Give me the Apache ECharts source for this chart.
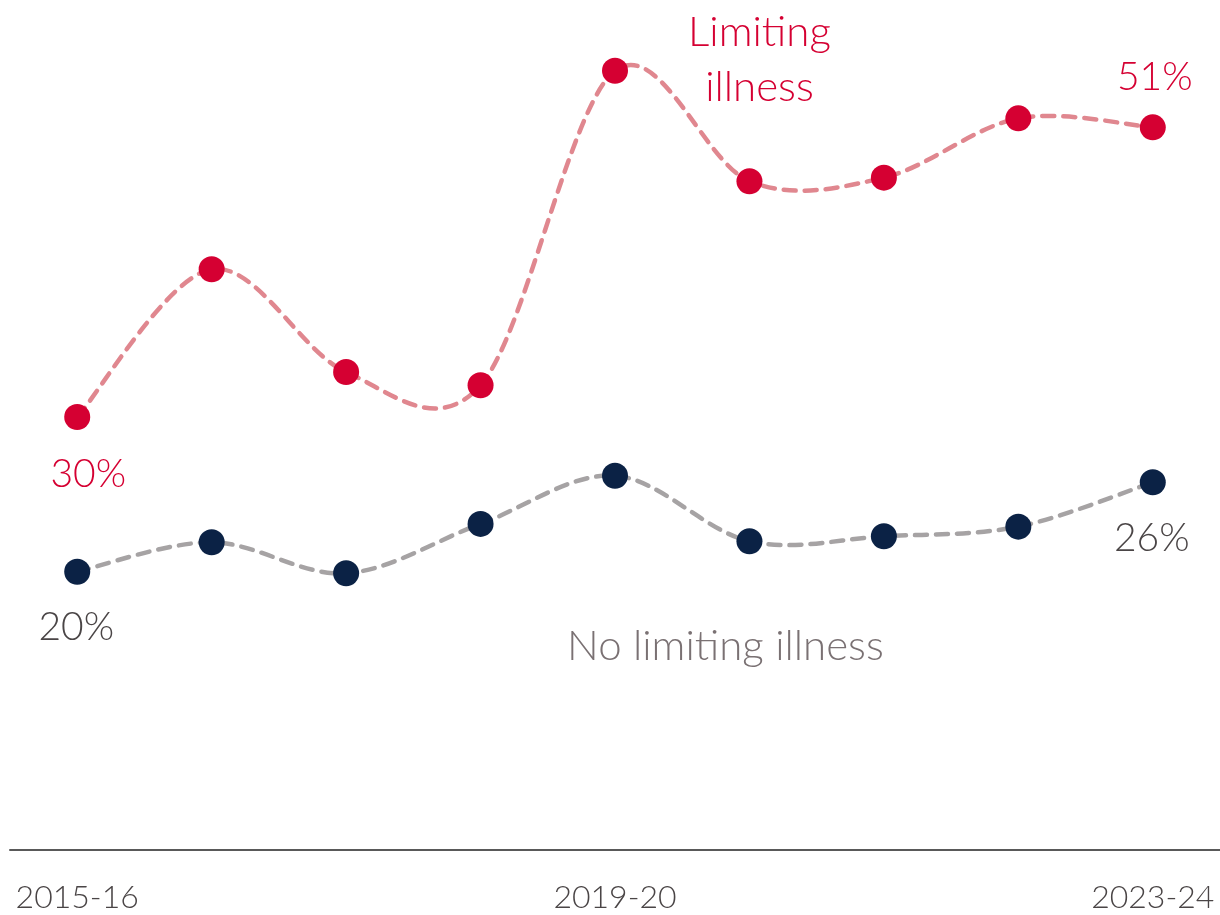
<!DOCTYPE html>
<html>
<head>
<meta charset="utf-8">
<script src="https://cdn.jsdelivr.net/npm/echarts@6/dist/echarts.min.js"></script>
<style>
  html, body { margin: 0; padding: 0; background: #fff; }
  #chart { width: 1220px; height: 915px; }
</style>
</head>
<body>
<div id="chart"></div>
<script>
// data (percent)
const categories = ['2015-16', '2016-17', '2017-18', '2018-19', '2019-20', '2020-21', '2021-22', '2022-23', '2023-24'];
const limiting = [30.45, 40.84, 33.61, 32.68, 54.8, 47.03, 47.28, 51.45, 50.82];
const noLimiting = [19.57, 21.64, 19.46, 22.93, 26.32, 21.71, 22.06, 22.74, 25.86];
const limitingName = 'Limiting\nillness';
const noLimitingName = 'No limiting illness';

const FONT = 'Lato';
const RED = '#d50032';
const NAVY = '#0b2245';
const DARK = '#4a4546';

const pct = v => Math.round(v) + '%';

function valueLabel(color, offset, text, size) {
  return {
    show: true,
    position: 'inside',
    offset: offset,
    align: 'center',
    verticalAlign: 'middle',
    color: color,
    fontFamily: FONT,
    fontWeight: 300,
    fontSize: size || 39,
    lineHeight: 55,
    formatter: text
  };
}

const redData = limiting.map((v, i) => {
  if (i === 0) return { value: v, label: valueLabel(RED, [11, 57], pct(v)) };
  if (i === limiting.length - 1) return { value: v, label: valueLabel(RED, [2, -50], pct(v)) };
  if (i === 5) return { value: v, label: valueLabel(RED, [10, -121], limitingName, 42) };
  return v;
});

const navyData = noLimiting.map((v, i) => {
  if (i === 0) return { value: v, label: valueLabel(DARK, [-1, 56], pct(v)) };
  if (i === noLimiting.length - 1) return { value: v, label: valueLabel(DARK, [-1, 56], pct(v)) };
  if (i === 5) return { value: v, label: valueLabel('#7a7173', [-24, 105], noLimitingName, 42) };
  return v;
});

// Catmull-Rom style curve through the points (like the spreadsheet "smoothed line"),
// echarts' own smooth clamps the control points and never overshoots
function curveSeries(values, color, z) {
  return {
    type: 'custom',
    data: [[0, values[0]]],
    z: z,
    silent: true,
    renderItem: function (params, api) {
      const p = values.map((v, i) => api.coord([i, v]));
      let d = 'M' + p[0][0] + ' ' + p[0][1];
      for (let i = 0; i < p.length - 1; i++) {
        const p0 = p[Math.max(i - 1, 0)];
        const p1 = p[i];
        const p2 = p[i + 1];
        const p3 = p[Math.min(i + 2, p.length - 1)];
        const c1x = p1[0] + (p2[0] - p0[0]) / 6;
        const c1y = p1[1] + (p2[1] - p0[1]) / 6;
        const c2x = p2[0] - (p3[0] - p1[0]) / 6;
        const c2y = p2[1] - (p3[1] - p1[1]) / 6;
        d += ' C' + c1x + ' ' + c1y + ' ' + c2x + ' ' + c2y + ' ' + p2[0] + ' ' + p2[1];
      }
      return {
        type: 'path',
        shape: { pathData: d },
        style: { fill: null, stroke: color, lineWidth: 4.5, lineDash: [12, 9], lineCap: 'round' }
      };
    }
  };
}

const chart = echarts.init(document.getElementById('chart'));
chart.setOption({
  animation: false,
  grid: { left: 10, right: 0, top: 11, bottom: 65 },
  xAxis: {
    type: 'category',
    data: categories,
    boundaryGap: true,
    axisLine: { lineStyle: { color: '#595959', width: 2 } },
    axisTick: { show: false },
    axisLabel: {
      interval: 3,
      margin: 32,
      color: DARK,
      fontFamily: FONT,
      fontWeight: 300,
      fontSize: 32
    }
  },
  yAxis: {
    type: 'value',
    min: 0,
    max: 59,
    show: false,
    splitLine: { show: false }
  },
  series: [
    curveSeries(limiting, '#e0878f', 2),
    curveSeries(noLimiting, '#a6a3a4', 1),
    {
      name: 'Limiting illness',
      type: 'line',
      data: redData,
      clip: false,
      symbol: 'circle',
      symbolSize: 26,
      itemStyle: { color: RED },
      lineStyle: { width: 0, opacity: 0 },
      z: 4
    },
    {
      name: 'No limiting illness',
      type: 'line',
      data: navyData,
      clip: false,
      symbol: 'circle',
      symbolSize: 26,
      itemStyle: { color: NAVY },
      lineStyle: { width: 0, opacity: 0 },
      z: 3
    }
  ]
});
</script>
</body>
</html>
